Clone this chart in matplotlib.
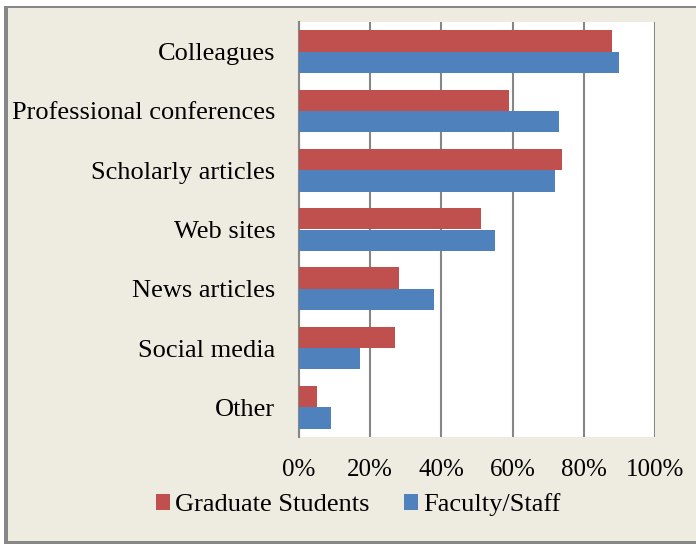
import numpy as np
import matplotlib.pyplot as plt
from matplotlib.patches import Rectangle

# survey data (percent)
categories = ['Colleagues', 'Professional conferences', 'Scholarly articles',
              'Web sites', 'News articles', 'Social media', 'Other']
grad_students = [88, 59, 74, 51, 28, 27, 5]
faculty_staff = [90, 73, 72, 55, 38, 17, 9]
x_ticks = [0, 20, 40, 60, 80, 100]
x_labels = ['0%', '20%', '40%', '60%', '80%', '100%']

plt.rcParams['font.family'] = ['Liberation Serif', 'DejaVu Serif']

W, H = 696, 544
fig = plt.figure(figsize=(W/100, H/100), dpi=100, facecolor='white')

def px_rect(x0, y0, x1, y1, color):
    # rectangle given in image pixels (y down)
    fig.patches.append(Rectangle((x0/W, 1 - y1/H), (x1-x0)/W, (y1-y0)/H,
                                 transform=fig.transFigure, color=color, lw=0, zorder=-10))

# beige chart background with gray frame (left/top/bottom)
px_rect(4, 6, W, 544, '#EEECE1')
px_rect(4, 6, 8, 544, '#878787')
px_rect(4, 6, W, 8, '#878787')
px_rect(4, 541, W, 544, '#878787')

ax = fig.add_axes([299/W, 1 - 437/H, (655-299)/W, (437-22)/H])
ax.set_facecolor('white')

y = np.arange(len(categories))
h = 0.36
ax.barh(y - h/2, grad_students, height=h, color='#C0504D', label='Graduate Students', zorder=3)
ax.barh(y + h/2, faculty_staff, height=h, color='#4F81BD', label='Faculty/Staff', zorder=3)

ax.set_xlim(0, 100)
ax.set_ylim(len(categories) - 0.5, -0.5)
ax.set_xticks(x_ticks)
ax.set_xticklabels(x_labels, fontsize=18)
ax.set_yticks(y)
ax.set_yticklabels(categories, fontsize=19)
ax.tick_params(length=0, pad=16, axis='x')
ax.tick_params(length=0, pad=17, axis='y')
ax.xaxis.grid(True, color='#868686', linewidth=1.5, zorder=0)

for side in ['top', 'right', 'bottom']:
    ax.spines[side].set_visible(False)
ax.spines['left'].set_color('#868686')
ax.spines['left'].set_linewidth(1.5)

fig.legend(loc='center', bbox_to_anchor=(358/W, 1 - 505/H), ncol=2, frameon=False,
           fontsize=19, handlelength=0.53, handleheight=0.53, handletextpad=0.2,
           columnspacing=1.3)

fig.savefig('out.png', dpi=100, facecolor=fig.get_facecolor())
